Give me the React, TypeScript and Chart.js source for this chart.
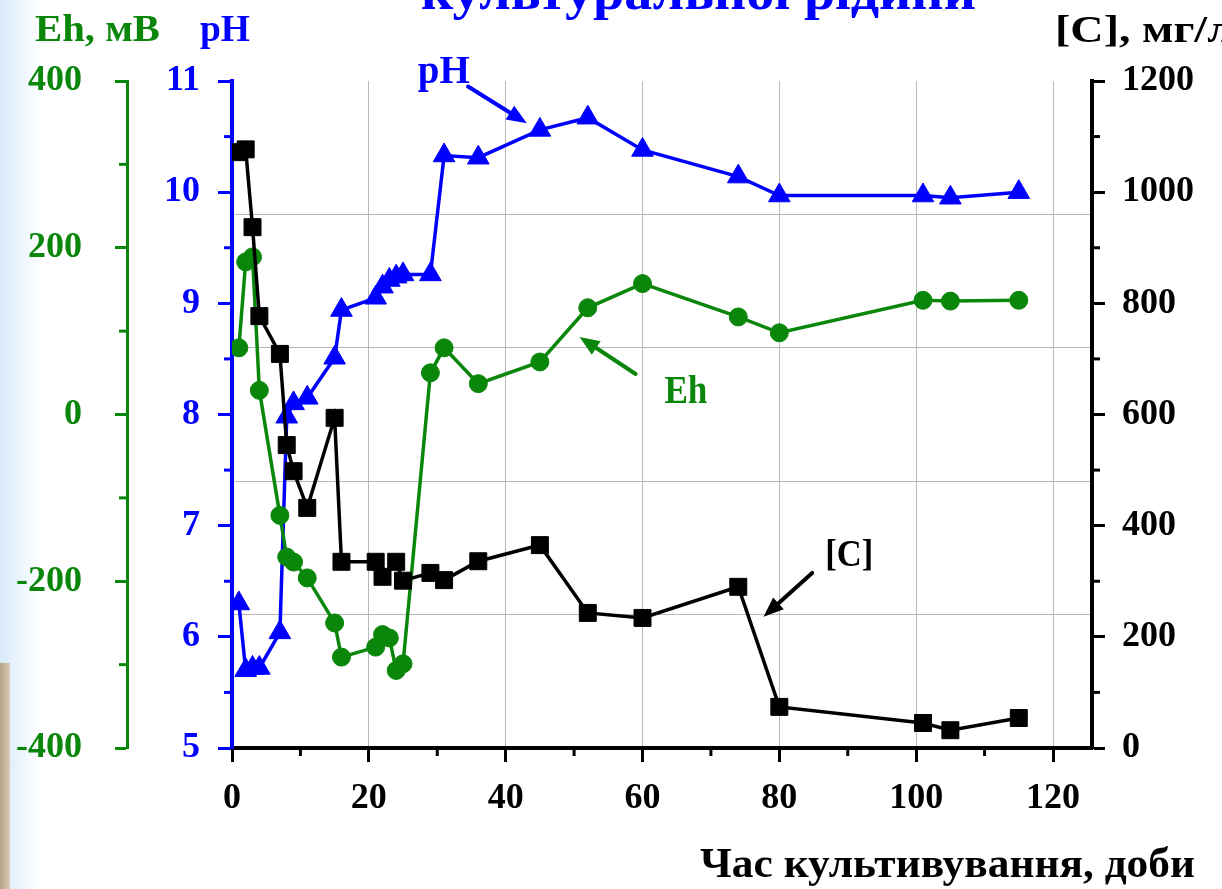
import React, { useEffect, useRef } from 'react';
import { Chart, registerables } from 'chart.js';

Chart.register(...registerables);

const GREEN = '#0a870a';
const BLUE = '#0000ff';
const BLACK = '#000000';
const GRID = '#b8b8b8';
const FONT = '"Liberation Serif", "Times New Roman", serif';

// pH series (time, days / pH)
const daysPH = [1, 2, 3, 4, 7, 8, 9, 11, 15, 16, 21, 22, 23, 24, 25, 29, 31, 36, 45, 52, 60, 74, 80, 101, 105, 115];
const valuesPH = [6.3, 5.7, 5.72, 5.72, 6.04, 7.98, 8.1, 8.15, 8.51, 8.94, 9.05, 9.15, 9.21, 9.24, 9.26, 9.26, 10.33, 10.31, 10.56, 10.67, 10.38, 10.14, 9.97, 9.97, 9.95, 10.0];

// Eh series (time, days / mV)
const daysEh = [1, 2, 3, 4, 7, 8, 9, 11, 15, 16, 21, 22, 23, 24, 25, 29, 31, 36, 45, 52, 60, 74, 80, 101, 105, 115];
const valuesEh = [80, 183, 189, 29, -121, -171, -177, -196, -250, -291, -279, -264, -268, -307, -299, 50, 80, 37, 63, 128, 157, 117, 98, 137, 136, 137];

// [C] series (time, days / mg/l)
const daysC = [1, 2, 3, 4, 7, 8, 9, 11, 15, 16, 21, 22, 24, 25, 29, 31, 36, 45, 52, 60, 74, 80, 101, 105, 115];
const valuesC = [1072, 1077, 937, 777, 709, 545, 498, 432, 594, 335, 335, 308, 335, 301, 315, 302, 336, 365, 243, 234, 290, 74, 45, 32, 54];

// axis ranges / ticks
const xRange = [0, 125.7];
const ehRange = [-400, 400];
const phRange = [5, 11];
const cRange = [0, 1200];
const xMinor = [10, 30, 50, 70, 90, 110];
const ehMinor = [-300, -100, 100, 300];
const phMinor = [5.5, 6.5, 7.5, 8.5, 9.5, 10.5];
const cMinor = [100, 300, 500, 700, 900, 1100];

// texts
const titleText = 'культуральної рідини';
const xTitle = 'Час культивування, доби';
const ehTitle = 'Eh, мВ';
const phTitle = 'pH';
const cTitle = '[C], мг/л';

// in-plot annotations (data coordinates: x days, y on the series' axis)
const labelPH = { text: 'pH', x: 27.15, y: 10.98 };
const labelEh = { text: 'Eh', x: 63.2, y: 13.8 };
const labelC = { text: '[C]', x: 86.7, y: 327 };
const arrowPH = [34.5, 10.95, 43.1, 10.62];
const arrowEh = [59, 48.6, 50.8, 93];
const arrowC = [84.8, 315, 77.7, 236];

function drawText(ctx: CanvasRenderingContext2D, s: string, left: number, baseline: number, size: number, color: string, width?: number) {
  ctx.save();
  ctx.font = `bold ${size}px ${FONT}`;
  ctx.fillStyle = color;
  ctx.textBaseline = 'alphabetic';
  ctx.textAlign = 'left';
  const m = ctx.measureText(s).width;
  const sx = width ? width / m : 1;
  ctx.translate(left, baseline);
  ctx.scale(sx, 1);
  ctx.fillText(s, 0, 0);
  ctx.restore();
}

function drawArrow(ctx: CanvasRenderingContext2D, x1: number, y1: number, x2: number, y2: number, color: string) {
  const ang = Math.atan2(y2 - y1, x2 - x1);
  const headLen = 20;
  const headW = 8;
  ctx.save();
  ctx.strokeStyle = color;
  ctx.fillStyle = color;
  ctx.lineWidth = 4;
  ctx.lineCap = 'round';
  ctx.beginPath();
  ctx.moveTo(x1, y1);
  ctx.lineTo(x2 - Math.cos(ang) * headLen * 0.8, y2 - Math.sin(ang) * headLen * 0.8);
  ctx.stroke();
  ctx.beginPath();
  ctx.moveTo(x2, y2);
  ctx.lineTo(x2 - Math.cos(ang) * headLen - Math.sin(ang) * headW, y2 - Math.sin(ang) * headLen + Math.cos(ang) * headW);
  ctx.lineTo(x2 - Math.cos(ang) * headLen + Math.sin(ang) * headW, y2 - Math.sin(ang) * headLen - Math.cos(ang) * headW);
  ctx.closePath();
  ctx.fill();
  ctx.restore();
}

const overlayPlugin = {
  id: 'overlay',
  afterDraw(chart: any) {
    const ctx: CanvasRenderingContext2D = chart.ctx;
    const sx = chart.scales.x;
    const sPH = chart.scales.y;
    const sEh = chart.scales.yEh;
    const sC = chart.scales.yC;
    ctx.save();
    ctx.lineWidth = 3;
    // minor ticks
    ctx.strokeStyle = BLACK;
    xMinor.forEach(v => {
      const p = sx.getPixelForValue(v);
      ctx.beginPath(); ctx.moveTo(p, sx.top); ctx.lineTo(p, sx.top + 8); ctx.stroke();
    });
    ctx.strokeStyle = GREEN;
    ehMinor.forEach(v => {
      const p = sEh.getPixelForValue(v);
      ctx.beginPath(); ctx.moveTo(sEh.right, p); ctx.lineTo(sEh.right - 8, p); ctx.stroke();
    });
    ctx.strokeStyle = BLUE;
    phMinor.forEach(v => {
      const p = sPH.getPixelForValue(v);
      ctx.beginPath(); ctx.moveTo(sPH.right, p); ctx.lineTo(sPH.right - 8, p); ctx.stroke();
    });
    ctx.strokeStyle = BLACK;
    cMinor.forEach(v => {
      const p = sC.getPixelForValue(v);
      ctx.beginPath(); ctx.moveTo(sC.left, p); ctx.lineTo(sC.left + 8, p); ctx.stroke();
    });
    ctx.restore();

    // titles
    drawText(ctx, titleText, 421, 9, 52, BLUE, 555);
    drawText(ctx, ehTitle, 35, 41, 38, GREEN, 125);
    drawText(ctx, phTitle, 200, 41, 38, BLUE, 50);
    drawText(ctx, cTitle, 1055, 42, 38, BLACK, 178);
    drawText(ctx, xTitle, 700, 877, 42, BLACK, 495);

    // annotations
    drawText(ctx, labelPH.text, sx.getPixelForValue(labelPH.x), sPH.getPixelForValue(labelPH.y), 40, BLUE, 52);
    drawText(ctx, labelEh.text, sx.getPixelForValue(labelEh.x), sEh.getPixelForValue(labelEh.y), 40, GREEN, 43);
    drawText(ctx, labelC.text, sx.getPixelForValue(labelC.x), sC.getPixelForValue(labelC.y), 38, BLACK, 48);
    drawArrow(ctx, sx.getPixelForValue(arrowPH[0]), sPH.getPixelForValue(arrowPH[1]), sx.getPixelForValue(arrowPH[2]), sPH.getPixelForValue(arrowPH[3]), BLUE);
    drawArrow(ctx, sx.getPixelForValue(arrowEh[0]), sEh.getPixelForValue(arrowEh[1]), sx.getPixelForValue(arrowEh[2]), sEh.getPixelForValue(arrowEh[3]), GREEN);
    drawArrow(ctx, sx.getPixelForValue(arrowC[0]), sC.getPixelForValue(arrowC[1]), sx.getPixelForValue(arrowC[2]), sC.getPixelForValue(arrowC[3]), BLACK);
  },
};

const toPoints = (xs: number[], ys: number[]) => xs.map((x, i) => ({ x, y: ys[i] }));
const plain = (v: any) => String(v);

export default function App() {
  const ref = useRef<HTMLCanvasElement | null>(null);

  useEffect(() => {
    if (!ref.current) return;
    const tickFont = { family: FONT, size: 36, weight: 'bold' as const };
    const chart = new Chart(ref.current, {
      type: 'line',
      data: {
        datasets: [
          {
            label: '[C]',
            data: toPoints(daysC, valuesC),
            yAxisID: 'yC',
            borderColor: BLACK,
            backgroundColor: BLACK,
            borderWidth: 3.5,
            pointStyle: 'rect',
            pointRadius: 12,
            pointBorderWidth: 1,
            pointBorderColor: BLACK,
            pointBackgroundColor: BLACK,
            tension: 0,
          },
          {
            label: 'Eh',
            data: toPoints(daysEh, valuesEh),
            yAxisID: 'yEh',
            borderColor: GREEN,
            backgroundColor: GREEN,
            borderWidth: 3.5,
            pointStyle: 'circle',
            pointRadius: 9,
            pointBorderWidth: 1,
            pointBorderColor: GREEN,
            pointBackgroundColor: GREEN,
            tension: 0,
          },
          {
            label: 'pH',
            data: toPoints(daysPH, valuesPH),
            yAxisID: 'y',
            borderColor: BLUE,
            backgroundColor: BLUE,
            borderWidth: 3.5,
            pointStyle: 'triangle',
            pointRadius: 12.5,
            pointBorderWidth: 1,
            pointBorderColor: BLUE,
            pointBackgroundColor: BLUE,
            tension: 0,
          },
        ],
      },
      options: {
        responsive: false,
        animation: false,
        devicePixelRatio: 1,
        layout: { padding: { top: 81, left: 0, right: 0, bottom: 0 } },
        plugins: { legend: { display: false }, tooltip: { enabled: false }, title: { display: false } },
        scales: {
          x: {
            type: 'linear',
            position: 'bottom',
            min: xRange[0],
            max: xRange[1],
            ticks: { stepSize: 20, includeBounds: false, color: BLACK, font: tickFont, padding: 15, maxRotation: 0, callback: plain },
            grid: { color: GRID, lineWidth: 1, tickLength: 14, tickColor: BLACK, tickWidth: 3 },
            border: { color: BLACK, width: 4 },
            afterFit: (s: any) => { s.height = 141; },
          },
          yEh: {
            type: 'linear',
            position: 'left',
            weight: 1,
            min: ehRange[0],
            max: ehRange[1],
            ticks: { stepSize: 200, color: GREEN, font: tickFont, padding: 33, callback: plain },
            grid: { drawOnChartArea: false, tickLength: 12, tickColor: GREEN, tickWidth: 3 },
            border: { color: GREEN, width: 3 },
            afterFit: (s: any) => { s.width = 127; },
          },
          y: {
            type: 'linear',
            position: 'left',
            weight: 0,
            min: phRange[0],
            max: phRange[1],
            ticks: { stepSize: 1, color: BLUE, font: tickFont, padding: 18, callback: plain },
            grid: { drawOnChartArea: false, tickLength: 14, tickColor: BLUE, tickWidth: 3 },
            border: { color: BLUE, width: 4 },
            afterFit: (s: any) => { s.width = 105; },
          },
          yC: {
            type: 'linear',
            position: 'right',
            weight: 0,
            min: cRange[0],
            max: cRange[1],
            ticks: { stepSize: 200, color: BLACK, font: tickFont, padding: 17, callback: plain },
            grid: { drawOnChartArea: false, tickLength: 13, tickColor: BLACK, tickWidth: 3 },
            border: { color: BLACK, width: 4 },
            afterFit: (s: any) => { s.width = 130; },
          },
          g: {
            type: 'linear',
            position: 'right',
            weight: 1,
            min: 0,
            max: 5,
            ticks: { display: false, stepSize: 1 },
            grid: {
              drawTicks: false,
              lineWidth: 1,
              color: (c: any) => (c.tick && (c.tick.value === 0 || c.tick.value === 5) ? 'rgba(0,0,0,0)' : GRID),
            },
            border: { display: false },
            afterFit: (s: any) => { s.width = 0; },
          },
        },
      },
      plugins: [overlayPlugin],
    } as any);
    return () => chart.destroy();
  }, []);

  return (
    <div
      style={{
        position: 'fixed',
        left: 0,
        top: 0,
        width: 1222,
        height: 889,
        overflow: 'hidden',
        background: 'linear-gradient(to right, #d8e9f8 0px, #eef6fd 22px, #ffffff 42px)',
      }}
    >
      <div style={{ position: 'absolute', left: 0, top: 663, width: 10, height: 226, background: 'linear-gradient(to right, #b3a387, #d9ccb5)' }} />
      <canvas ref={ref} width={1222} height={889} style={{ position: 'absolute', left: 0, top: 0, display: 'block' }} />
    </div>
  );
}
